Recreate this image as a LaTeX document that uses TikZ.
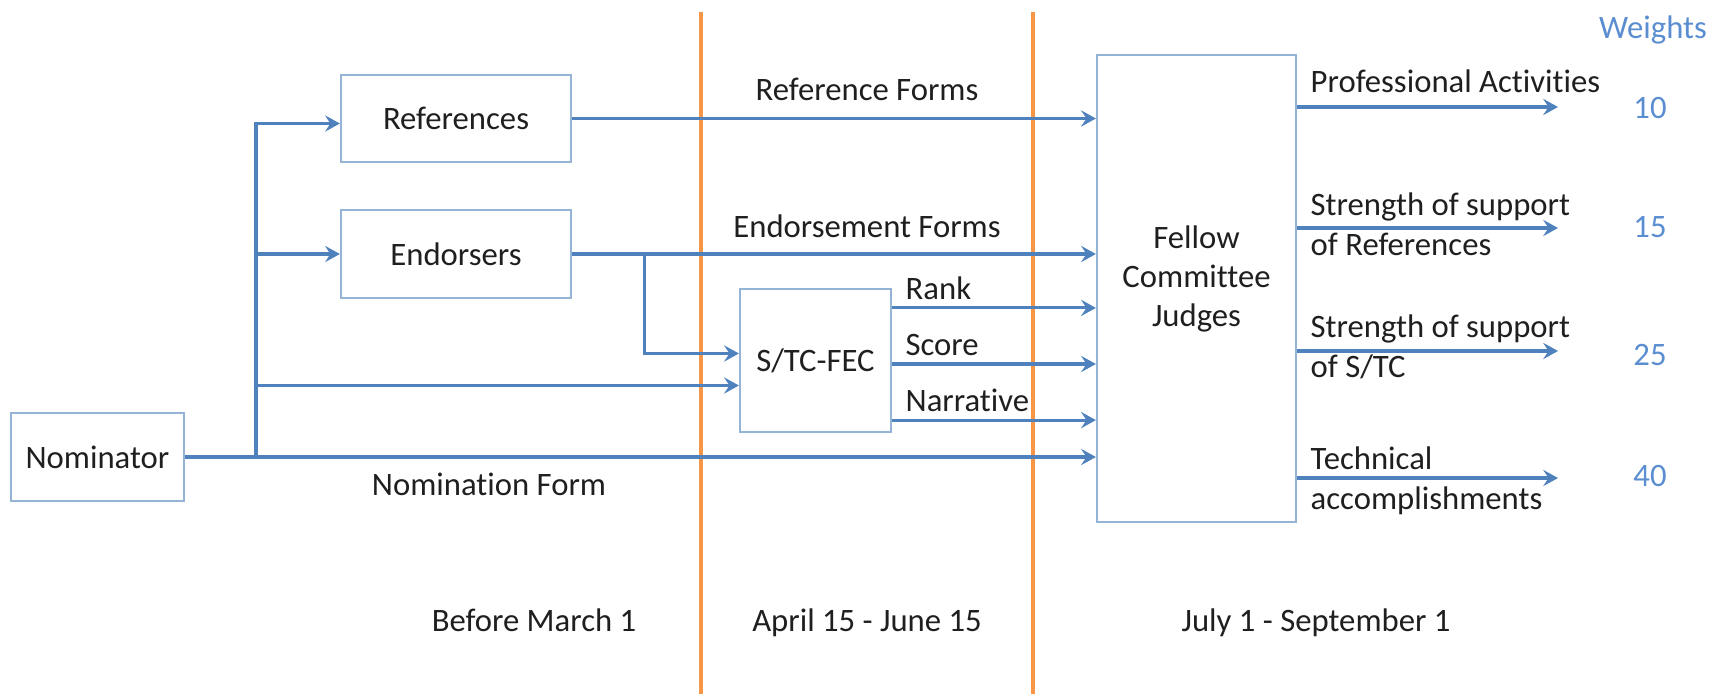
\documentclass[tikz,border=0pt]{standalone}
\usepackage{fontspec}
\setmainfont[Ligatures=NoCommon]{Carlito}
\usetikzlibrary{arrows.meta,calc}
\definecolor{flowblue}{HTML}{4F81BD}
\definecolor{weightblue}{HTML}{5B8ED0}
\definecolor{boxblue}{HTML}{95B3D7}
\definecolor{phaseorange}{HTML}{F79646}

\begin{document}
\begin{tikzpicture}[x=0.01cm, y=-0.01cm,
    font=\fontsize{9.3}{11.1}\selectfont, text=black!88,
    box/.style={draw=boxblue, line width=0.6pt, inner sep=0pt, align=center},
    flow/.style={draw=flowblue, line width=0.9pt, -{Stealth[length=4.2pt,width=4.6pt,inset=1.5pt]}},
    side/.style={anchor=south west, inner xsep=3.4pt, inner ysep=2pt},
    weight/.style={text=weightblue, anchor=base},
    phase/.style={draw=phaseorange, line width=1pt}]
    \useasboundingbox (0,0) rectangle (1713,694);

    % Phase separators
    \draw[phase] (701,12) -- (701,694);
    \draw[phase] (1033,12) -- (1033,694);

    % Boxes
    \node[box, minimum width=1.73cm, minimum height=0.88cm] (nom) at (97.5,457) {Nominator};
    \node[box, minimum width=2.3cm, minimum height=0.87cm] (refs) at (456,118.5) {References};
    \node[box, minimum width=2.3cm, minimum height=0.88cm] (endo) at (456,254) {Endorsers};
    \node[box, minimum width=1.51cm, minimum height=1.43cm] (stc) at (815.5,360.5) {S/TC-FEC};
    \node[box, minimum width=1.99cm, minimum height=4.67cm,
        label={[name=fellowtxt, align=center, yshift=2.8pt]center:Fellow\\Committee\\Judges}] (fellow) at (1196.5,288.5) {};

    % Nominator and its trunk
    \coordinate (trunk) at (256,457);
    \draw[flow] (nom) -- (nom -| fellow.west);
    \draw[flow] (trunk) |- ($(refs.west)+(0,5)$);
    \draw[flow] (trunk |- endo.west) -- (endo.west);
    \draw[flow] ($(trunk |- stc.west)+(0,25)$) -- ($(stc.west)+(0,25)$);

    % Forms to the committee
    \coordinate (split) at ($(endo.east)+(72,0)$);
    \draw[flow] (refs.east) -- (refs.east -| fellow.west);
    \draw[flow] (endo.east) -- (endo.east -| fellow.west);
    \draw[flow] (split) |- ($(stc.west)+(0,-7)$);

    % S/TC-FEC outputs
    \coordinate (rank) at ($(stc.north east)+(0,20)$);
    \coordinate (score) at ($(stc.east)+(0,3.5)$);
    \coordinate (narr) at ($(stc.south east)+(0,-13)$);
    \draw[flow] (rank) -- node[pos=0, side] (ranklab) {Rank} (rank -| fellow.west);
    \draw[flow] (score) -- node[pos=0, side] (scorelab) {Score} (score -| fellow.west);
    \draw[flow] (narr) -- node[pos=0, side] (narrlab) {Narrative} (narr -| fellow.west);

    % Committee outputs
    \coordinate (outa) at (fellow.east |- 0,107);
    \coordinate (outb) at (fellow.east |- 0,228);
    \coordinate (outc) at (fellow.east |- 0,351);
    \coordinate (outd) at (fellow.east |- 0,478);
    \draw[flow] (outa) -- (1558,107);
    \draw[flow] (outb) -- (1558,228);
    \draw[flow] (outc) -- (1558,351);
    \draw[flow] (outd) -- (1558,478);

    % Labels
    \node[anchor=base] (reflab) at (867,100) {Reference Forms};
    \node[anchor=base] (endolab) at (867,237) {Endorsement Forms};
    \node[anchor=base] (nomlab) at (489,495) {Nomination Form};
    \node[anchor=base west, inner sep=0pt] (proflab) at (1310,92) {Professional Activities};
    \node[anchor=base west, inner sep=0pt, align=left] (reflab2) at (1310,255) {Strength of support\\of References};
    \node[anchor=base west, inner sep=0pt, align=left] (stclab) at (1310,377) {Strength of support\\of S/TC};
    \node[anchor=base west, inner sep=0pt, align=left] (techlab) at (1310,509) {Technical\\accomplishments};

    % Weights
    \node[weight] (wtitle) at (1653,38) {Weights};
    \node[weight] (wa) at (1650,118) {10};
    \node[weight] (wb) at (1650,237) {15};
    \node[weight] (wc) at (1650,365) {25};
    \node[weight] (wd) at (1650,486) {40};

    % Phases
    \node[anchor=base] (pha) at (534,631) {Before March 1};
    \node[anchor=base] (phb) at (867,631) {April 15 - June 15};
    \node[anchor=base] (phc) at (1316,631) {July 1 - September 1};
\end{tikzpicture}
\end{document}
